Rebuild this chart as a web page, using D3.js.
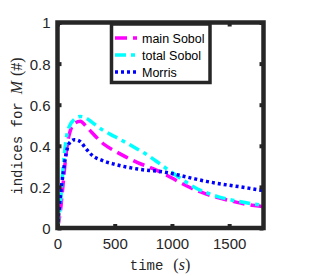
<!DOCTYPE html>
<html><head><meta charset="utf-8">
<script src="https://cdn.jsdelivr.net/npm/d3@7"></script>
<style>body{margin:0;background:#fff}svg{display:block}</style>
</head><body>
<script>
const times = [0,25,50,75,100,150,200,250,300,400,500,600,700,800,900,1000,1100,1200,1300,1400,1500,1600,1700,1800];
const mainSobol = [0,0.08,0.22,0.36,0.45,0.51,0.52,0.495,0.465,0.41,0.375,0.345,0.318,0.296,0.272,0.243,0.213,0.186,0.165,0.148,0.134,0.121,0.111,0.104];
const totalSobol = [0,0.12,0.30,0.43,0.49,0.53,0.543,0.535,0.515,0.475,0.445,0.415,0.383,0.35,0.31,0.27,0.232,0.197,0.172,0.153,0.139,0.128,0.118,0.11];
const morris = [0,0.15,0.27,0.36,0.41,0.43,0.42,0.385,0.355,0.327,0.31,0.297,0.287,0.28,0.275,0.265,0.252,0.239,0.227,0.217,0.208,0.2,0.191,0.182];
const xTicks = [0,500,1000,1500];
const yTicks = [0,0.2,0.4,0.6,0.8,1];
const seriesNames = ["main Sobol","total Sobol","Morris"];

const W=309,H=276;
const svg=d3.select("body").append("svg").attr("width",W).attr("height",H);
const L=57.5,R=263.5,T=22.5,B=228;
const x=d3.scaleLinear().domain([0,1800]).range([L,R]);
const y=d3.scaleLinear().domain([0,1]).range([B,T]);
const frame="#262626";

const series=[
 {name:seriesNames[0],vals:mainSobol,color:"#ff00ff",dash:"12,6"},
 {name:seriesNames[1],vals:totalSobol,color:"#00ffff",dash:"11,5,4,5"},
 {name:seriesNames[2],vals:morris,color:"#0000ff",dash:"3,3"}
];
svg.append("defs").append("clipPath").attr("id","c").append("rect")
 .attr("x",L).attr("y",T).attr("width",R-L).attr("height",B-T);
const line=d3.line().x((d,i)=>x(times[i])).y(d=>y(d)).curve(d3.curveMonotoneX);
const g=svg.append("g").attr("clip-path","url(#c)");
series.forEach(s=>{
 g.append("path").attr("d",line(s.vals)).attr("fill","none")
  .attr("stroke",s.color).attr("stroke-width",3.5).attr("stroke-dasharray",s.dash);
});

// axes
const fs=15;
const xb=svg.append("g").attr("transform",`translate(0,${B})`)
 .call(d3.axisBottom(x).tickValues(xTicks).tickSize(-4).tickPadding(10).tickFormat(d3.format("d")));
const xt=svg.append("g").attr("transform",`translate(0,${T})`)
 .call(d3.axisTop(x).tickValues(xTicks).tickSize(-4).tickFormat(""));
const yl=svg.append("g").attr("transform",`translate(${L},0)`)
 .call(d3.axisLeft(y).tickValues(yTicks).tickSize(-4).tickPadding(7).tickFormat(d3.format("")));
const yr=svg.append("g").attr("transform",`translate(${R},0)`)
 .call(d3.axisRight(y).tickValues(yTicks).tickSize(-4).tickFormat(""));
[xb,xt,yl,yr].forEach(a=>{
 a.select(".domain").remove();
 a.selectAll("line").attr("stroke",frame).attr("stroke-width",4);
 a.selectAll("text").attr("fill","#262626").attr("font-family","Liberation Sans, Arial, sans-serif").attr("font-size",fs);
});
xb.selectAll("text").attr("dy","0.71em");
yl.selectAll("text").attr("dy","0.36em");
svg.append("rect").attr("x",L).attr("y",T).attr("width",R-L).attr("height",B-T)
 .attr("fill","none").attr("stroke",frame).attr("stroke-width",4.5);

// legend
const lg=svg.append("g");
lg.append("rect").attr("x",111.5).attr("y",24).attr("width",98.5).attr("height",58.5)
 .attr("fill","#fff").attr("stroke",frame).attr("stroke-width",3.5);
const ly=[38,55,72];
series.forEach((s,i)=>{
 lg.append("line").attr("x1",115).attr("x2",137).attr("y1",ly[i]).attr("y2",ly[i])
  .attr("stroke",s.color).attr("stroke-width",3.5).attr("stroke-dasharray",s.dash);
 lg.append("text").attr("x",142).attr("y",ly[i]).attr("dy","0.36em")
  .attr("font-family","Liberation Sans, Arial, sans-serif").attr("font-size",12.5)
  .attr("fill","#000").text(s.name);
});

// x label
const xlab=svg.append("text").attr("x",160).attr("y",270).attr("text-anchor","middle").attr("fill","#262626");
xlab.append("tspan").attr("font-family","Liberation Mono, Courier New, monospace").attr("font-size",14).text("time");
xlab.append("tspan").attr("dx",10).attr("font-family","Liberation Serif, serif").attr("font-size",16).text("(");
xlab.append("tspan").attr("font-family","Liberation Serif, serif").attr("font-style","italic").attr("font-size",16).text("s");
xlab.append("tspan").attr("font-family","Liberation Serif, serif").attr("font-size",16).text(")");

// y label
const ylab=svg.append("text").attr("transform","translate(22,126) rotate(-90)").attr("text-anchor","middle").attr("fill","#262626");
ylab.append("tspan").attr("font-family","Liberation Mono, Courier New, monospace").attr("font-size",14).text("indices for");
ylab.append("tspan").attr("dx",8).attr("font-family","Liberation Serif, serif").attr("font-style","italic").attr("font-size",16).text("M");
ylab.append("tspan").attr("dx",5).attr("font-family","Liberation Serif, serif").attr("font-size",16).text("(#)");
</script>
</body></html>
